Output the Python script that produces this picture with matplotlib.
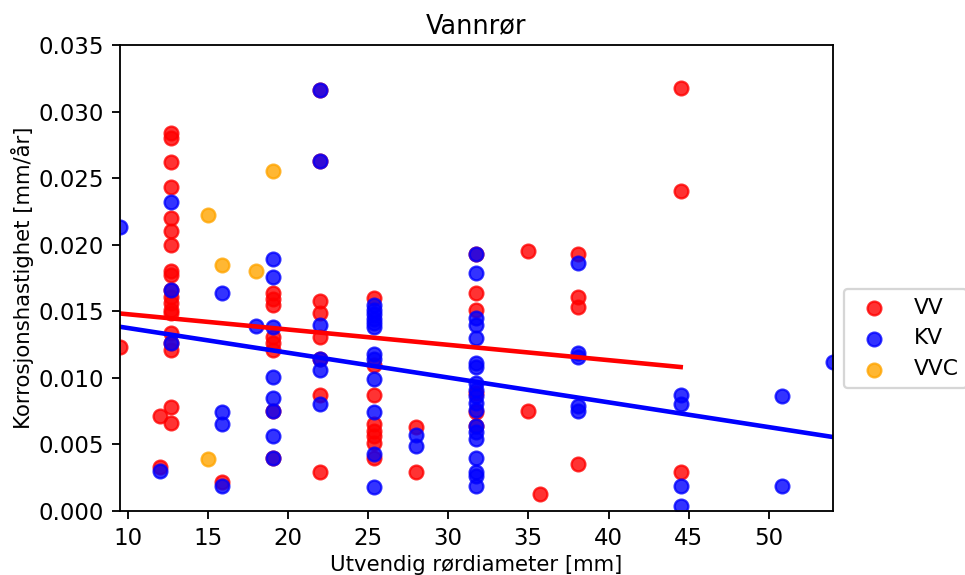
import numpy as np
import matplotlib
matplotlib.use('Agg')
import matplotlib.pyplot as plt

# VV (red) - diameter [mm], corrosion rate [mm/yr]
vv_x = [9.53, 12.0, 12.0,
        12.7, 12.7, 12.7, 12.7, 12.7, 12.7, 12.7, 12.7, 12.7, 12.7, 12.7, 12.7,
        12.7, 12.7, 12.7, 12.7, 12.7, 12.7, 12.7,
        15.9,
        19.05, 19.05, 19.05, 19.05, 19.05, 19.05, 19.05, 19.05,
        22.0, 22.0, 22.0, 22.0, 22.0, 22.0, 22.0, 22.0,
        25.4, 25.4, 25.4, 25.4, 25.4, 25.4, 25.4, 25.4,
        28.0, 28.0,
        31.75, 31.75, 31.75, 31.75, 31.75, 31.75,
        35.0, 35.0, 35.7,
        38.1, 38.1, 38.1, 38.1,
        44.5, 44.5, 44.5]
vv_y = [0.0123, 0.0071, 0.0033,
        0.0284, 0.0280, 0.0262, 0.0243, 0.0220, 0.0210, 0.0200, 0.0180, 0.0177, 0.0166, 0.0161, 0.0156,
        0.0151, 0.0149, 0.0134, 0.0126, 0.0121, 0.0078, 0.0066,
        0.0022,
        0.0164, 0.0159, 0.0155, 0.0131, 0.0126, 0.0121, 0.0075, 0.0040,
        0.0316, 0.0263, 0.0158, 0.0149, 0.0131, 0.0114, 0.0087, 0.0029,
        0.0160, 0.0110, 0.0087, 0.0065, 0.0060, 0.0056, 0.0051, 0.0040,
        0.0063, 0.0029,
        0.0193, 0.0164, 0.0151, 0.0089, 0.0074, 0.0064,
        0.0195, 0.0075, 0.0013,
        0.0193, 0.0161, 0.0153, 0.0035,
        0.0318, 0.0240, 0.0029]

# KV (blue)
kv_x = [9.53, 12.0,
        12.7, 12.7, 12.7,
        15.9, 15.9, 15.9, 15.9,
        18.0,
        19.05, 19.05, 19.05, 19.05, 19.05, 19.05, 19.05, 19.05,
        22.0, 22.0, 22.0, 22.0, 22.0, 22.0,
        25.4, 25.4, 25.4, 25.4, 25.4, 25.4, 25.4, 25.4, 25.4, 25.4, 25.4, 25.4,
        28.0, 28.0,
        31.75, 31.75, 31.75, 31.75, 31.75, 31.75, 31.75, 31.75, 31.75, 31.75,
        31.75, 31.75, 31.75, 31.75, 31.75, 31.75, 31.75, 31.75, 31.75,
        38.1, 38.1, 38.1, 38.1, 38.1,
        44.5, 44.5, 44.5, 44.5,
        50.8, 50.8,
        54.0]
kv_y = [0.0213, 0.0030,
        0.0232, 0.0166, 0.0126,
        0.0164, 0.0074, 0.0065, 0.0019,
        0.0139,
        0.0189, 0.0176, 0.0138, 0.0101, 0.0085, 0.0075, 0.0056, 0.0040,
        0.0316, 0.0263, 0.0140, 0.0114, 0.0106, 0.0080,
        0.0155, 0.0151, 0.0148, 0.0144, 0.0141, 0.0138, 0.0118, 0.0114, 0.0099, 0.0074, 0.0043, 0.0018,
        0.0057, 0.0049,
        0.0193, 0.0179, 0.0145, 0.0140, 0.0130, 0.0111, 0.0108, 0.0096, 0.0091,
        0.0086, 0.0081, 0.0076, 0.0064, 0.0059, 0.0054, 0.0040, 0.0029, 0.0026, 0.0019,
        0.0186, 0.0119, 0.0116, 0.0079, 0.0075,
        0.0087, 0.0080, 0.0019, 0.0004,
        0.0086, 0.0019,
        0.0112]

# VVC (orange)
vvc_x = [15.0, 15.0, 15.9, 18.0, 19.05]
vvc_y = [0.0222, 0.0039, 0.0185, 0.0180, 0.0255]

# linear trend (slope, intercept)
vv_trend = (-1.150e-4, 0.01593)
kv_trend = (-1.862e-4, 0.01561)

DPI = 165
fig = plt.figure(figsize=(965 / DPI, 575 / DPI), dpi=DPI)
ax = fig.add_axes([120 / 965, 1 - 511 / 575, 713 / 965, 466 / 575])

ax.scatter(vv_x, vv_y, color='red', alpha=0.8, label='VV')
ax.scatter(kv_x, kv_y, color='blue', alpha=0.8, label='KV')
ax.scatter(vvc_x, vvc_y, color='orange', alpha=0.8, label='VVC')

for xs, (m, b), c in [(vv_x, vv_trend, 'red'), (kv_x, kv_trend, 'blue')]:
    xl = np.array([min(xs), max(xs)])
    ax.plot(xl, m * xl + b, color=c, lw=2.0)

ax.set_xlim(min(kv_x), max(kv_x))
ax.set_ylim(0, 0.035)
ax.set_title('Vannrør', fontsize=11.2, pad=5)
ax.set_xlabel('Utvendig rørdiameter [mm]', fontsize=9.3, labelpad=2)
ax.set_ylabel('Korrosjonshastighet [mm/år]', fontsize=9.3, labelpad=2)
ax.legend(loc='upper left', bbox_to_anchor=(1, 0.5), fontsize=9.5)

fig.savefig('out.png', dpi=DPI)
